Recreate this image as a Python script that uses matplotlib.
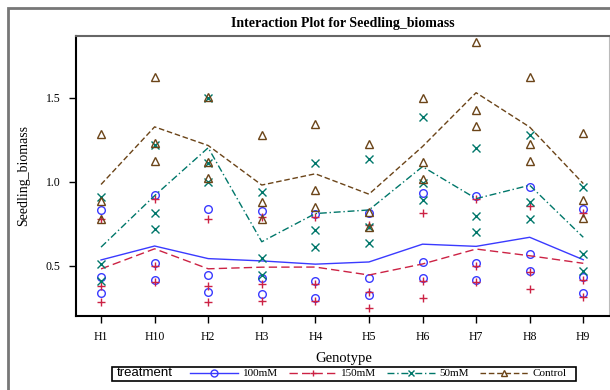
import numpy as np
import matplotlib
matplotlib.use("Agg")
import matplotlib.pyplot as plt
from matplotlib.lines import Line2D
from matplotlib.patches import Rectangle

genotypes = ["H1", "H10", "H2", "H3", "H4", "H5", "H6", "H7", "H8", "H9"]
treatments = ["100mM", "150mM", "50mM", "Control"]

# three replicates per genotype, one list per treatment
biomass_100mM = [
    [0.833, 0.437, 0.337], [0.923, 0.516, 0.417], [0.841, 0.445, 0.345],
    [0.829, 0.430, 0.331], [0.810, 0.411, 0.311], [0.817, 0.427, 0.327],
    [0.933, 0.526, 0.430], [0.917, 0.516, 0.417], [0.972, 0.570, 0.470],
    [0.837, 0.437, 0.337],
]
biomass_150mM = [
    [0.782, 0.381, 0.284], [0.901, 0.502, 0.403], [0.782, 0.383, 0.284],
    [0.793, 0.393, 0.292], [0.793, 0.393, 0.294], [0.743, 0.347, 0.248],
    [0.813, 0.411, 0.311], [0.897, 0.502, 0.403], [0.857, 0.464, 0.361],
    [0.813, 0.417, 0.317],
]
biomass_50mM = [
    [0.913, 0.512, 0.411], [1.220, 0.817, 0.718], [1.498, 1.111, 1.002],
    [0.940, 0.546, 0.446], [1.111, 0.714, 0.611], [1.135, 0.730, 0.635],
    [1.389, 0.992, 0.893], [1.200, 0.800, 0.702], [1.280, 0.883, 0.778],
    [0.972, 0.570, 0.470],
]
biomass_control = [
    [1.286, 0.887, 0.782], [1.627, 1.230, 1.127], [1.508, 1.121, 1.022],
    [1.280, 0.883, 0.782], [1.345, 0.952, 0.849], [1.226, 0.822, 0.734],
    [1.500, 1.117, 1.016], [1.832, 1.429, 1.333], [1.627, 1.226, 1.127],
    [1.294, 0.893, 0.784],
]

series = [biomass_100mM, biomass_150mM, biomass_50mM, biomass_control]
colors = ["#3a3aff", "#cc2244", "#00776a", "#6b4418"]
markers = ["o", "+", "x", "^"]
dashes = [(None, None), (6, 3), (5, 2, 1, 2), (4, 2)]

serif = "Liberation Serif"
plt.rcParams["font.family"] = serif

fig = plt.figure(figsize=(6.1, 3.9), dpi=100)
ax = fig.add_axes([76 / 610, 1 - 316 / 390, 533 / 610, 280 / 390])

x = np.arange(len(genotypes))
handles = []
for vals, name, c, m, d in zip(series, treatments, colors, markers, dashes):
    vals = np.array(vals)
    face = "none" if m in ("o", "^") else c
    for k in range(vals.shape[1]):
        ax.plot(x, vals[:, k], linestyle="none", marker=m, markersize=5.5,
                markerfacecolor=face, markeredgecolor=c, markeredgewidth=1.0)
    ln, = ax.plot(x, vals.mean(axis=1), color=c, linewidth=1.0)
    if d[0] is not None:
        ln.set_dashes(d)
    h = Line2D([], [], color=c, linewidth=1.0, marker=m, markersize=5,
               markerfacecolor=face, markeredgecolor=c, label=name)
    if d[0] is not None:
        h.set_dashes(d)
    handles.append(h)

ax.set_xlim(-0.467, 9.48)
ax.set_ylim(0.202, 1.869)
ax.set_xticks(x)
ax.set_xticklabels(genotypes)
ax.set_yticks([0.5, 1.0, 1.5])
ax.set_yticklabels(["0.5", "1.0", "1.5"])
ax.tick_params(labelsize=8.5, length=5, width=1, direction="out", pad=6)

for s in ("left", "bottom"):
    ax.spines[s].set_linewidth(1.5)
ax.spines["top"].set_color("#666666")
ax.spines["top"].set_linewidth(1.5)
ax.spines["right"].set_color("#bbbbbb")

ax.set_xlabel("Genotype", fontsize=10.5)
ax.set_ylabel("Seedling_biomass", fontsize=10)
ax.xaxis.set_label_coords((344 - 76) / 533, (316 - 352) / 280)
ax.yaxis.set_label_coords((30 - 76) / 533, 0.5)
fig.text(343 / 610, 1 - 24 / 390, "Interaction Plot for Seedling_biomass",
         ha="center", va="center", fontsize=10, fontweight="bold")

# legend: "treatment" caption on the left, entries in one row, one box round both
ly = 1 - 373.5 / 390
fig.text(117 / 610, ly, "treatment", ha="left", va="center",
         fontsize=9.5, family="Liberation Sans")
leg = fig.legend(handles=handles, loc="center", ncol=4,
                 bbox_to_anchor=(378.5 / 610, ly),
                 fontsize=8, handlelength=4.3, handletextpad=0.4,
                 columnspacing=1.0, borderpad=0.0, borderaxespad=0,
                 frameon=False)
fig.patches.append(Rectangle((112 / 610, 1 - 380.5 / 390), 464 / 610, 14 / 390,
                             transform=fig.transFigure, fill=False,
                             edgecolor="black", linewidth=1.2))

# outer frame round the whole graph
fig.patches.append(Rectangle((8 / 610, -0.1), 1.2, 1.1 - 8 / 390,
                             transform=fig.transFigure, fill=False,
                             edgecolor="#777777", linewidth=2))

fig.savefig("out.png", dpi=100)
